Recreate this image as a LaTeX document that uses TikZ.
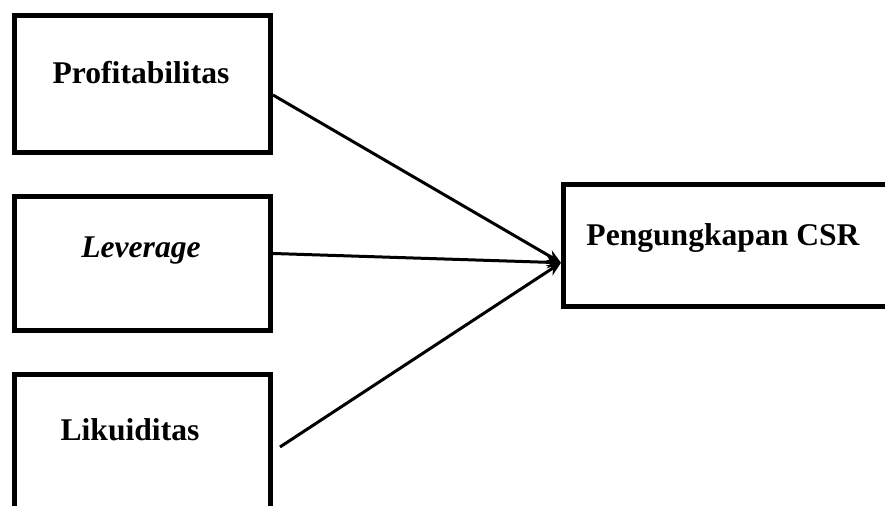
\documentclass[tikz,border=0pt]{standalone}
\usepackage{fontspec}
\setmainfont{Liberation Serif}
\usetikzlibrary{arrows.meta,calc}
\begin{document}
\begin{tikzpicture}[x=0.5pt,y=-0.5pt,
  box/.style={draw,line width=2.5pt,inner sep=0pt,minimum width=128pt},
  lbl/.style={font=\fontsize{15.8}{19}\selectfont\bfseries,inner sep=0pt},
  conn/.style={line width=1.5pt,-{Stealth[length=7pt,width=6pt]}}]
\useasboundingbox (0,0) rectangle (885,506);
\clip (0,0) rectangle (885,506);
\node[box,minimum height=68.5pt] (b1) at (142.5,84) {};
\node[box,minimum height=67pt] (b2) at (142.5,263.5) {};
\node[box,minimum height=82.5pt] (b3) at (142.5,457.5) {};
\node[box,minimum width=170pt,minimum height=61.25pt] (r) at (733.5,245.75) {};
\node[lbl] (t1) at (141,73) {Profitabilitas};
\node[lbl,font=\fontsize{15.8}{19}\selectfont\bfseries\itshape] (t2) at (141,251) {Leverage};
\node[lbl] (t3) at (130,430) {Likuiditas};
\node[lbl] (t4) at (723,238) {Pengungkapan CSR};
\draw[conn] ([yshift=-5.5pt]b1.east) -- ([yshift=-8.5pt]r.west);
\draw[conn] ([yshift=5pt]b2.east) -- ([yshift=-8.5pt]r.west);
\draw[conn] ([xshift=3.5pt,yshift=5.25pt]b3.east) -- ([yshift=-8.5pt]r.west);
\end{tikzpicture}
\end{document}
